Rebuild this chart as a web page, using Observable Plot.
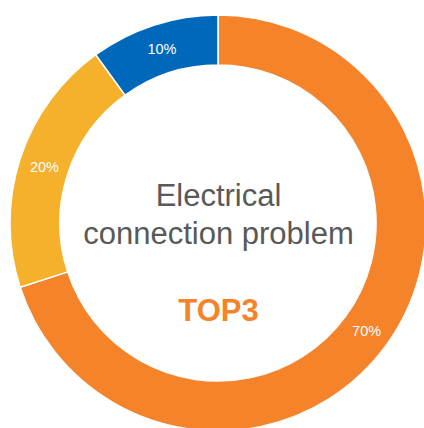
<!DOCTYPE html>
<html>
<head>
<meta charset="utf-8">
<script src="https://cdn.jsdelivr.net/npm/d3@7"></script>
<script src="https://cdn.jsdelivr.net/npm/@observablehq/plot@0.6"></script>
<style>
  html, body { margin: 0; padding: 0; background: #fff; overflow: hidden; }
  #chart svg { display: block; }
</style>
</head>
<body>
<div id="chart"></div>
<script>
// ---- data ----
const categories = ["TOP3", "Second", "Third"];
const values = [70, 20, 10];
const valueLabels = ["70%", "20%", "10%"];
const colors = ["#F4832A", "#F5B02C", "#0068BB"];
const centerLines = ["Electrical", "connection problem"];
const highlight = "TOP3";

// ---- layout (unit = outer radius) ----
const innerR = 0.76;
const labelR = 0.88;

const pie = d3.pie().sort(null).value(d => d.value)(
  categories.map((c, i) => ({ category: c, value: values[i], label: valueLabels[i], color: colors[i] }))
);
const slices = pie.map(p => {
  const mid = (p.startAngle + p.endAngle) / 2;
  return { ...p.data, startAngle: p.startAngle, endAngle: p.endAngle,
           lx: labelR * Math.sin(mid), ly: labelR * Math.cos(mid) };
});

const font = "Arial, 'Liberation Sans', Helvetica, sans-serif";

const arcMark = (index, scales) => {
  const cx = scales.x(0), cy = scales.y(0);
  const R = scales.x(1) - scales.x(0);
  const arc = d3.arc().innerRadius(R * innerR).outerRadius(R);
  const g = d3.create("svg:g").attr("transform", `translate(${cx},${cy})`);
  g.selectAll("path").data(slices).join("path")
    .attr("d", d => arc(d))
    .attr("fill", d => d.color)
    .attr("stroke", "#fff")
    .attr("stroke-width", 1.5)
    .attr("stroke-linejoin", "round");
  return g.node();
};

const chart = Plot.plot({
  width: 424,
  height: 428,
  margin: 0,
  style: { fontFamily: font, background: "#fff", overflow: "hidden" },
  x: { domain: [-1, 1], range: [10, 426], axis: null },
  y: { domain: [-1, 1], range: [431, 15], axis: null },
  marks: [
    arcMark,
    Plot.text(slices, {
      x: "lx", y: "ly", text: "label",
      fill: "#fff", fontSize: 14.5, textAnchor: "middle"
    }),
    Plot.text([centerLines[0]], {
      x: [0], y: [0], text: d => d, dy: -27,
      fill: "#595959", fontSize: 31, textAnchor: "middle"
    }),
    Plot.text([centerLines[1]], {
      x: [0], y: [0], text: d => d, dy: 11,
      fill: "#595959", fontSize: 31, textAnchor: "middle"
    }),
    Plot.text([highlight], {
      x: [0], y: [0], text: d => d, dy: 88,
      fill: colors[0], fontSize: 31, fontWeight: "bold", textAnchor: "middle"
    })
  ]
});
document.getElementById("chart").append(chart);
</script>
</body>
</html>
